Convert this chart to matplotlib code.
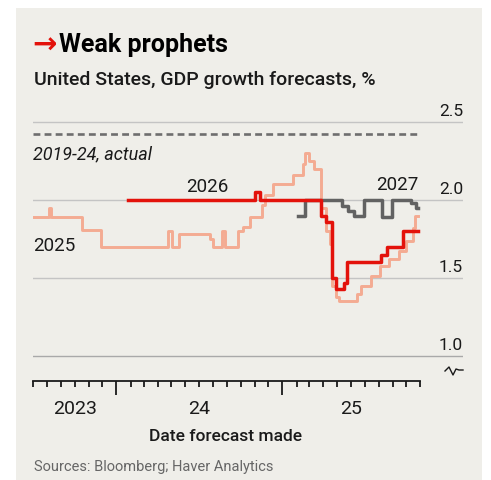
import numpy as np
import pandas as pd
import matplotlib
matplotlib.use("Agg")
import matplotlib.pyplot as plt
import matplotlib.dates as mdates
from matplotlib.transforms import blended_transform_factory

plt.rcParams['font.family'] = ['Roboto', 'DejaVu Sans']

# forecasts for 2025 growth (step series, date forecast made -> %)
f2025_dates = ['2023-07-01', '2023-08-05', '2023-08-10', '2023-10-17', '2023-11-28',
               '2024-04-23', '2024-05-02', '2024-05-19', '2024-07-25', '2024-08-01',
               '2024-08-20', '2024-08-27', '2024-09-25', '2024-10-05', '2024-10-21',
               '2024-11-17', '2024-11-24', '2024-12-11', '2025-01-25', '2025-02-16',
               '2025-02-20', '2025-03-01', '2025-03-12', '2025-03-27', '2025-04-07',
               '2025-04-16', '2025-04-21', '2025-04-30', '2025-05-06', '2025-06-15',
               '2025-06-24', '2025-07-16', '2025-08-03', '2025-08-25', '2025-09-16',
               '2025-10-01', '2025-10-16', '2025-10-21', '2025-10-27']
f2025_vals = [1.89, 1.95, 1.89, 1.81, 1.70,
              1.80, 1.70, 1.78, 1.75, 1.70,
              1.80, 1.70, 1.80, 1.83, 1.89,
              1.97, 2.03, 2.10, 2.16, 2.23,
              2.30, 2.25, 2.20, 1.95, 1.80,
              1.72, 1.45, 1.38, 1.35, 1.40,
              1.45, 1.51, 1.58, 1.62, 1.67,
              1.74, 1.82, 1.90, 1.90]

# forecasts for 2026 growth
f2026_dates = ['2024-01-27', '2024-11-02', '2024-11-12', '2025-03-27', '2025-04-07',
               '2025-04-21', '2025-04-30', '2025-05-17', '2025-05-24', '2025-07-27',
               '2025-08-07', '2025-08-20', '2025-09-23', '2025-10-27']
f2026_vals = [2.00, 2.05, 2.00, 1.90, 1.86,
              1.50, 1.43, 1.47, 1.60, 1.60,
              1.65, 1.70, 1.80, 1.80]

# forecasts for 2027 growth
f2027_dates = ['2025-02-05', '2025-02-20', '2025-05-13', '2025-05-25', '2025-06-07',
               '2025-06-30', '2025-08-08', '2025-08-30', '2025-10-12', '2025-10-22',
               '2025-10-27']
f2027_vals = [1.90, 2.00, 1.96, 1.93, 1.90,
              2.00, 1.89, 2.00, 1.98, 1.95, 1.95]

actual_avg = 2.42  # 2019-24, actual
yticks = [1.0, 1.5, 2.0, 2.5]
year_labels = ['2023', '24', '25']
year_label_dates = ['2023-10-01', '2024-07-01', '2025-06-01']

W, H = 491, 481
fig = plt.figure(figsize=(W / 100, H / 100), dpi=100)
fig.patch.set_facecolor('white')
panel = plt.Rectangle((16 / W, 0), (482 - 16) / W, 1 - 9 / H, transform=fig.transFigure,
                      facecolor='#efeee9', edgecolor='none', zorder=-10)
fig.patches.append(panel)

left, right = 33, 463
ybot, ytop = 382, 100
ax = fig.add_axes([left / W, 1 - ybot / H, (right - left) / W, (ybot - ytop) / H])
ax.set_facecolor('none')
ax.set_zorder(1)

x0 = pd.Timestamp('2023-07-01')
x_end_axis = pd.Timestamp('2025-11-01')
px_per_day = 166 / 366
x1 = x0 + pd.Timedelta(days=(right - left) / px_per_day)
ax.set_xlim(x0, x1)
ax.set_ylim(2.5 - (ybot - 123) / 156, 2.5 + (123 - ytop) / 156)

txt = '#1a1a1a'
for v in yticks:
    ax.axhline(v, color='#c4c4c4' if v > 1 else '#a9a9a9', lw=1.0, zorder=1)
ax.plot([x0, pd.Timestamp('2025-10-25')], [actual_avg, actual_avg], color='#6e6e6e',
        lw=1.9, ls=(0, (2.6, 1.6)), zorder=2)

def steps(dates, vals):
    return pd.to_datetime(dates), vals

d, v = steps(f2025_dates, f2025_vals)
ax.plot(d, v, drawstyle='steps-post', color='#f4ab92', lw=2.1, zorder=3)
d, v = steps(f2027_dates, f2027_vals)
ax.plot(d, v, drawstyle='steps-post', color='#626262', lw=2.5, zorder=4)
d, v = steps(f2026_dates, f2026_vals)
ax.plot(d, v, drawstyle='steps-post', color='#e3120b', lw=2.5, zorder=5)

# y labels sitting on gridlines, right aligned
tr = blended_transform_factory(ax.transAxes, ax.transData)
for yv in yticks:
    ax.text(1.0, yv + 0.025, f'{yv:.1f}', transform=tr, ha='right', va='bottom',
            fontsize=12.5, color=txt)

# series labels
ax.text(pd.Timestamp('2023-07-01'), 2.30, '2019-24, actual', style='italic',
        fontsize=13, color=txt, ha='left', va='center')
ax.text(pd.Timestamp('2024-07-20'), 2.09, '2026', fontsize=13.5, color=txt,
        ha='center', va='center')
ax.text(pd.Timestamp('2023-07-01'), 1.71, '2025', fontsize=13.5, color=txt,
        ha='left', va='center')
ax.text(pd.Timestamp('2025-10-27'), 2.10, '2027', fontsize=13.5, color=txt,
        ha='right', va='center')

# x axis
for s in ['top', 'right', 'left']:
    ax.spines[s].set_visible(False)
ax.spines['bottom'].set_bounds(mdates.date2num(x0), mdates.date2num(x_end_axis))
ax.spines['bottom'].set_linewidth(1.3)
ax.spines['bottom'].set_color(txt)
months = pd.date_range(x0, x_end_axis, freq='MS')
majors = [m for m in months if m.month == 1]
ax.set_xticks(majors)
ax.set_xticks([m for m in months if m.month != 1], minor=True)
ax.tick_params(axis='x', which='major', length=10, width=1.3, color=txt,
               labelbottom=False, direction='out')
ax.tick_params(axis='x', which='minor', length=4.5, width=1.3, color=txt,
               direction='out', labelbottom=False)
ax.set_yticks([])

trx = blended_transform_factory(ax.transData, fig.transFigure)
for lab, dt in zip(year_labels, year_label_dates):
    ax.text(pd.Timestamp(dt), 1 - 409 / H, lab, transform=trx, ha='center', va='center',
            fontsize=14, color=txt)

# break symbol
zx = np.array([445, 449, 453, 456, 459, 463])
zy = np.array([372, 368, 376, 370, 371, 371])
fig.add_artist(plt.Line2D(zx / W, 1 - zy / H, color=txt, lw=1.0))

fig.text(32 / W, 1 - 46 / H, '\u2192', color='#e3120b', fontsize=21, fontweight='bold',
         ha='left', va='center', family=['DejaVu Sans'])
fig.text(59 / W, 1 - 45 / H, 'Weak prophets', color='black', fontsize=18,
         fontweight='bold', ha='left', va='center')
fig.text(34 / W, 1 - 80 / H, 'United States, GDP growth forecasts, %', color=txt,
         fontsize=14, fontweight='medium', ha='left', va='center')
fig.text(226 / W, 1 - 437 / H, 'Date forecast made', color=txt, fontsize=12.5,
         fontweight='medium', ha='center', va='center')
fig.text(34 / W, 1 - 467 / H, 'Sources: Bloomberg; Haver Analytics', color='#666666',
         fontsize=10.5, ha='left', va='center')

fig.savefig('out.png', dpi=100)
